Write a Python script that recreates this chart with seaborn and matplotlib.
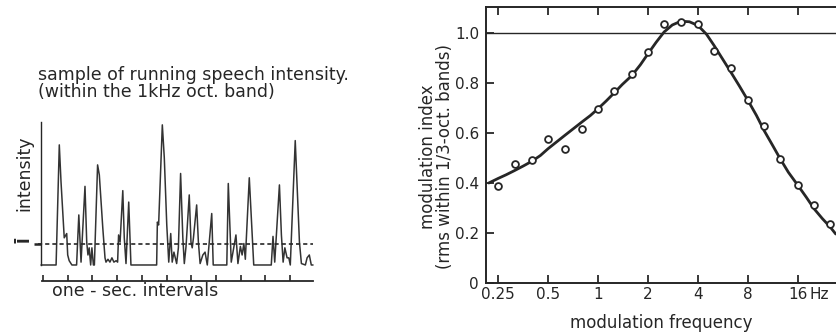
import matplotlib.pyplot as plt
import seaborn as sns
from matplotlib.ticker import NullLocator

# running speech intensity (time in s, intensity relative to the largest peak)
speech_t = [-0.08, 0.53, 0.66, 0.73, 0.86, 0.96, 1.00, 1.06, 1.17, 1.36, 1.45, 1.54, 1.70, 1.77, 1.82,
            1.87, 1.93, 1.98, 2.04, 2.08, 2.21, 2.28, 2.42, 2.51, 2.55, 2.63, 2.71, 2.79, 2.87, 2.96,
            3.02, 3.06, 3.12, 3.23, 3.29, 3.36, 3.47, 3.56, 4.60, 4.63, 4.68, 4.83, 4.91, 5.01, 5.09,
            5.17, 5.23, 5.30, 5.41, 5.48, 5.57, 5.66, 5.72, 5.79, 5.92, 5.99, 6.04, 6.09, 6.22, 6.29,
            6.36, 6.47, 6.56, 6.65, 6.83, 6.89, 7.44, 7.50, 7.62, 7.72, 7.81, 7.89, 7.99, 8.06, 8.13,
            8.19, 8.35, 8.53, 9.24, 9.31, 9.38, 9.57, 9.65, 9.72, 9.79, 9.88, 9.95, 10.01, 10.21, 10.38,
            10.46, 10.62, 10.69, 10.78, 10.86, 10.93]
speech_i = [0, 0, 0.84, 0.58, 0.19, 0.22, 0.07, 0.03, 0, 0, 0.35, 0.02, 0.55, 0.16, 0.07,
            0.12, 0, 0.12, 0, 0, 0.70, 0.63, 0.26, 0.05, 0.02, 0.04, 0.02, 0.05, 0.02, 0.03,
            0.02, 0.21, 0.16, 0.52, 0.19, 0.01, 0.44, 0, 0, 0.30, 0.28, 0.98, 0.75, 0.28, 0.02,
            0.22, 0.02, 0.09, 0.01, 0.12, 0.64, 0.19, 0.01, 0.13, 0.49, 0.16, 0.12, 0.19, 0.42, 0.16,
            0.01, 0.07, 0.09, 0, 0.36, 0, 0, 0.57, 0.02, 0.12, 0.21, 0.01, 0.13, 0.07, 0.15,
            0.04, 0.61, 0, 0, 0.20, 0.02, 0.56, 0.21, 0.02, 0.12, 0.05, 0.05, 0, 0.87, 0.16,
            0.01, 0, 0.05, 0.07, 0, 0]
mean_level = 0.15
sec_ticks = list(range(11))

# modulation spectrum of speech
freq_pts = [0.25, 0.315, 0.4, 0.5, 0.63, 0.8, 1, 1.25, 1.6, 2, 2.5, 3.15, 4, 5, 6.3, 8, 10, 12.5, 16, 20, 25]
mod_pts = [0.388, 0.475, 0.493, 0.576, 0.535, 0.615, 0.697, 0.769, 0.837, 0.924, 1.035, 1.044, 1.035,
           0.928, 0.859, 0.733, 0.627, 0.496, 0.391, 0.312, 0.235]
curve_f = [0.22, 0.25, 0.28, 0.315, 0.355, 0.4, 0.45, 0.5, 0.56, 0.63, 0.71, 0.8, 0.9, 1.0, 1.12, 1.25,
           1.4, 1.6, 1.8, 2.0, 2.24, 2.5, 2.8, 3.15, 3.55, 4.0, 4.5, 5.0, 5.6, 6.3, 7.1, 8.0, 9.0, 10,
           11.2, 12.5, 14, 16, 18, 20, 22.4, 25, 27]
curve_m = [0.40, 0.418, 0.433, 0.45, 0.468, 0.487, 0.51, 0.537, 0.563, 0.59, 0.617, 0.644, 0.67, 0.697,
           0.728, 0.76, 0.794, 0.83, 0.873, 0.917, 0.963, 1.004, 1.032, 1.047, 1.045, 1.03, 0.995, 0.95,
           0.898, 0.844, 0.788, 0.73, 0.67, 0.61, 0.553, 0.497, 0.443, 0.39, 0.342, 0.297, 0.258, 0.224,
           0.196]
freq_ticks = [0.25, 0.5, 1, 2, 4, 8, 16]
freq_labels = ['0.25', '0.5', '1', '2', '4', '8', '16']
mi_ticks = [0, 0.2, 0.4, 0.6, 0.8, 1.0]
mi_labels = ['0', '0.2', '0.4', '0.6', '0.8', '1.0']

sns.set_style("white")
plt.rcParams['font.family'] = ['DejaVu Sans']
ink = '#262626'
fs = 11      # tick labels
fl = 12      # axis labels
ft = 12.5    # left panel texts

fig = plt.figure(figsize=(8.36, 3.35), dpi=100)

# left: speech intensity sample
ax1 = fig.add_axes([36 / 836, 54 / 335, 279 / 836, 161 / 335])
sns.lineplot(x=speech_t, y=speech_i, ax=ax1, color='#333333', lw=1.1, estimator=None, sort=False)
ax1.hlines(mean_level, -0.2, speech_t[-1], color=ink, lw=1.2, linestyles=(0, (2.5, 1.8)))
ax1.set_xlim(-0.283, 11.01)
ax1.set_ylim(-0.112, 1.014)
ax1.spines['top'].set_visible(False)
ax1.spines['right'].set_visible(False)
ax1.spines['left'].set_position(('data', -0.1))
ax1.spines['left'].set_bounds(0, 1)
ax1.spines['left'].set_linewidth(1.0)
ax1.spines['bottom'].set_bounds(-0.04, speech_t[-1])
ax1.spines['bottom'].set_linewidth(1.3)
for s in ax1.spines.values():
    s.set_color(ink)
ax1.set_xticks(sec_ticks, labels=[])
ax1.tick_params(axis='x', bottom=True, direction='in', length=4, width=1.2, color=ink)
ax1.set_yticks([mean_level], ['Ī'])
ax1.tick_params(axis='y', left=True, direction='out', length=5, width=1.8, color=ink, labelrotation=90,
                pad=1, labelsize=fs, labelcolor=ink)
for lab in ax1.get_yticklabels():
    lab.set_fontweight('bold')
ax1.set_ylabel('intensity', fontsize=ft, color=ink)
ax1.yaxis.set_label_coords(-0.01, 0.67)
ax1.set_xlabel('')
fig.text(52 / 836, 1 - 282 / 335, 'one - sec. intervals', fontsize=ft, color=ink, va='top', ha='left')
fig.text(38 / 836, 1 - 66 / 335, 'sample of running speech intensity.\n(within the 1kHz oct. band)',
         fontsize=ft, color=ink, va='top', ha='left', linespacing=0.95)

# right: modulation spectrum
ax2 = fig.add_axes([486 / 836, 52 / 335, 350 / 836, 276 / 335])
sns.lineplot(x=curve_f, y=curve_m, ax=ax2, color=ink, lw=2.0, estimator=None, sort=False)
sns.scatterplot(x=freq_pts, y=mod_pts, ax=ax2, marker='o', s=24, facecolor='white', edgecolor=ink,
                linewidth=1.3, zorder=3)
ax2.axhline(1.0, color=ink, lw=1.0)
ax2.set_xscale('log', base=2)
ax2.set_xlim(0.2117, 27.1)
ax2.set_ylim(0, 1.104)
ax2.set_xticks(freq_ticks, freq_labels)
ax2.xaxis.set_minor_locator(NullLocator())
ax2.set_yticks(mi_ticks, mi_labels)
ax2.tick_params(axis='x', which='both', bottom=True, top=True, direction='in', length=6, width=1.3,
                pad=3, labelsize=fs, color=ink, labelcolor=ink)
ax2.tick_params(axis='y', left=True, direction='in', length=6, width=1.3, pad=5, labelsize=fs,
                color=ink, labelcolor=ink)
ax2.spines['right'].set_visible(False)
for s in ['left', 'top', 'bottom']:
    ax2.spines[s].set_linewidth(1.4)
    ax2.spines[s].set_color(ink)
ax2.annotate('Hz', xy=(16, 0), xycoords=('data', 'axes fraction'), xytext=(8, -3),
             textcoords='offset points', va='top', ha='left', fontsize=fs, color=ink)
ax2.set_xlabel('modulation frequency', fontsize=fl, color=ink)
ax2.xaxis.set_label_coords(0.5, -0.112)
ax2.set_ylabel('modulation index\n(rms within 1/3-oct. bands)', fontsize=fl, color=ink, linespacing=0.95)
ax2.yaxis.set_label_coords(-0.09, 0.457)

plt.savefig('out.png', dpi=100, facecolor='white')
